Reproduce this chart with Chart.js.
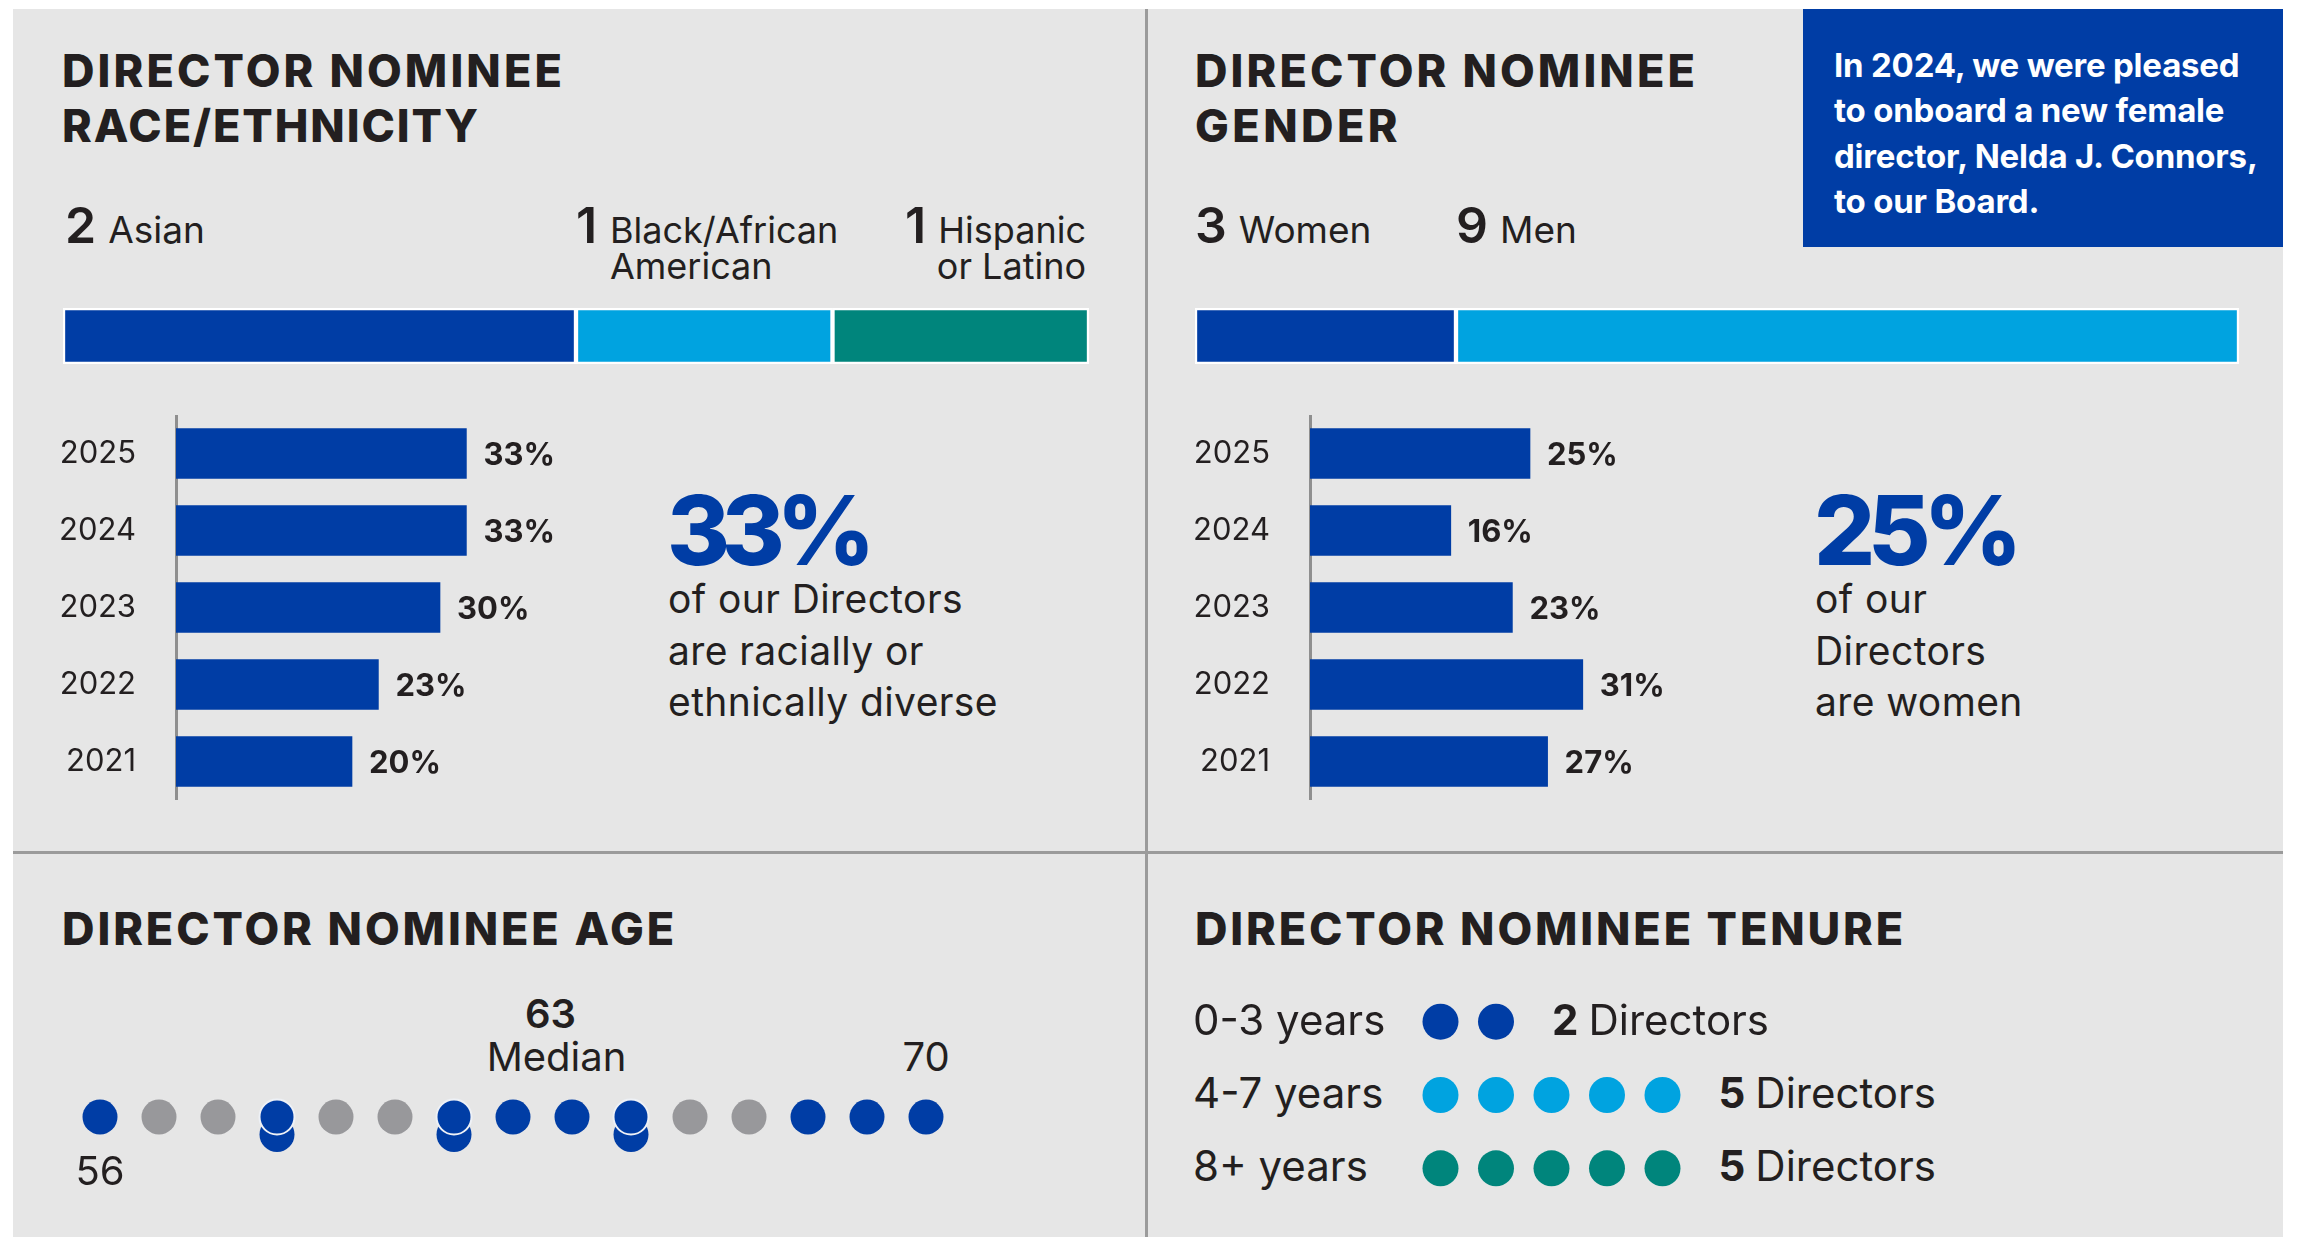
<!DOCTYPE html>
<html>
<head>
<meta charset="utf-8">
<title>Director nominees</title>
<script src="https://cdn.jsdelivr.net/npm/chart.js@4.4.1/dist/chart.umd.min.js"></script>
<style>
  html, body { margin: 0; padding: 0; background: #fff; }
  body { width: 2301px; height: 1244px; position: relative; overflow: hidden; font-family: Inter, sans-serif; color: #231f20; }
  .panel { position: absolute; left: 13px; top: 9px; width: 2270px; height: 1228px; background: #e6e6e6; }
  .vline { position: absolute; left: 1145px; top: 9px; width: 3px; height: 1228px; background: #9b9b9b; }
  .hline { position: absolute; left: 13px; top: 851px; width: 2270px; height: 3px; background: #9b9b9b; }
  .note { position: absolute; left: 1803px; top: 9px; width: 480px; height: 238px; background: #003da5; }
  .box { position: absolute; }
  .t { position: absolute; white-space: nowrap; line-height: 1; }
</style>
</head>
<body>
<div class="panel"></div>
<div class="vline"></div>
<div class="hline"></div>
<div class="note"></div>

<div class="box" style="left:63px;top:308px;width:1026px;height:56px"><canvas id="raceMix"></canvas></div>
<div class="box" style="left:1195px;top:308px;width:1044px;height:56px"><canvas id="genderMix"></canvas></div>
<div class="box" style="left:46px;top:415px;width:570px;height:385px"><canvas id="raceYears"></canvas></div>
<div class="box" style="left:1180px;top:415px;width:570px;height:385px"><canvas id="genderYears"></canvas></div>
<div class="box" style="left:41px;top:1082px;width:944px;height:70px"><canvas id="ageDots"></canvas></div>
<div class="box" style="left:1385px;top:985px;width:333px;height:220px"><canvas id="tenureDots"></canvas></div>

<script>
// data
const raceLabels = ['Asian', 'Black/African\nAmerican', 'Hispanic\nor Latino'];
const raceCounts = [2, 1, 1];
const genderLabels = ['Women', 'Men'];
const genderCounts = [3, 9];
const years = ['2025', '2024', '2023', '2022', '2021'];
const racePct = [33, 33, 30, 23, 20];
const womenPct = [25, 16, 23, 31, 27];
const directorAges = [56, 59, 59, 62, 62, 63, 64, 65, 65, 68, 69, 70];
const tenureLabels = ['0-3 years', '4-7 years', '8+ years'];
const tenureCounts = [2, 5, 5];

const navy = '#003da5';
const sky = '#00a3e0';
const teal = '#00857c';
const dotGray = '#98989b';
const ink = '#231f20';

Chart.defaults.font.family = 'Inter';
Chart.defaults.color = ink;

// text helper: x / baseline in page px
function label(parts, x, base, align, fitWidth) {
  const el = document.createElement('div');
  el.className = 't';
  parts.forEach(p => {
    const s = document.createElement('span');
    s.textContent = p.text;
    s.style.font = (p.weight || 400) + ' ' + p.size + 'px Inter';
    s.style.color = p.color || ink;
    if (p.ls) s.style.letterSpacing = p.ls + 'px';
    if (p.gap) s.style.marginLeft = p.gap + 'px';
    el.appendChild(s);
  });
  const mark = document.createElement('span');
  mark.style.cssText = 'display:inline-block;width:0;height:0;vertical-align:baseline';
  el.appendChild(mark);
  document.body.appendChild(el);
  if (fitWidth) {
    const w0 = el.getBoundingClientRect().width;
    const n = parts[0].text.length;
    el.firstChild.style.letterSpacing = ((fitWidth - w0) / n) + 'px';
  }
  const w = el.getBoundingClientRect().width;
  let left = x;
  if (align === 'center') left = x - w / 2;
  if (align === 'right') left = x - w;
  el.style.left = left + 'px';
  el.style.top = (base - mark.offsetTop) + 'px';
  return el;
}

// one stacked bar of counts
function mixBar(id, counts, colors) {
  return new Chart(document.getElementById(id), {
    type: 'bar',
    data: {
      labels: [''],
      datasets: counts.map((c, i) => ({
        data: [c],
        backgroundColor: colors[i],
        borderColor: '#ffffff',
        borderWidth: 2.5,
        borderSkipped: false,
        barPercentage: 1,
        categoryPercentage: 1,
      })),
    },
    options: {
      indexAxis: 'y',
      responsive: true,
      maintainAspectRatio: false,
      animation: false,
      layout: { padding: 0, autoPadding: false },
      plugins: { legend: { display: false }, tooltip: { enabled: false } },
      scales: {
        x: { stacked: true, display: false, min: 0, max: counts.reduce((a, b) => a + b, 0) },
        y: { stacked: true, display: false },
      },
    },
  });
}

const valueLabels = {
  id: 'valueLabels',
  afterDatasetsDraw(chart) {
    const ctx = chart.ctx;
    ctx.save();
    ctx.font = '700 31px Inter';
    ctx.fillStyle = ink;
    ctx.textBaseline = 'middle';
    chart.getDatasetMeta(0).data.forEach((bar, i) => {
      ctx.fillText(chart.data.datasets[0].data[i] + '%', bar.x + 17, bar.y + 2);
    });
    ctx.restore();
  },
};

function yearBars(id, values) {
  return new Chart(document.getElementById(id), {
    type: 'bar',
    data: {
      labels: years,
      datasets: [{ data: values, backgroundColor: navy, barThickness: 50 }],
    },
    options: {
      indexAxis: 'y',
      responsive: true,
      maintainAspectRatio: false,
      animation: false,
      layout: { padding: 0, autoPadding: false },
      plugins: { legend: { display: false }, tooltip: { enabled: false } },
      scales: {
        x: { display: false, min: 0, max: 50 },
        y: {
          grid: { display: false, drawTicks: false },
          border: { display: true, color: '#8f8f8f', width: 3 },
          ticks: { color: ink, padding: 40, font: { family: 'Inter', size: 31 } },
          afterFit(s) { s.width = 130; s.paddingTop = 0; s.paddingBottom = 0; },
        },
      },
    },
    plugins: [valueLabels],
  });
}

mixBar('raceMix', raceCounts, [navy, sky, teal]);
mixBar('genderMix', genderCounts, [navy, sky]);
yearBars('raceYears', racePct);
yearBars('genderYears', womenPct);

// ages: one dot per year of age, stacked when two directors share it
const minAge = Math.min(...directorAges);
const maxAge = Math.max(...directorAges);
const ageSpan = [];
for (let a = minAge; a <= maxAge; a++) ageSpan.push(a);
const ageCount = a => directorAges.filter(v => v === a).length;
const sorted = [...directorAges].sort((a, b) => a - b);
const mid = sorted.length / 2;
const medianAge = sorted.length % 2 ? sorted[Math.floor(mid)] : (sorted[mid - 1] + sorted[mid]) / 2;

const topRow = ageSpan.filter(a => ageCount(a) > 0);
const secondRow = ageSpan.filter(a => ageCount(a) > 1);
const noAge = ageSpan.filter(a => ageCount(a) === 0);

const ageChart = new Chart(document.getElementById('ageDots'), {
  type: 'scatter',
  data: {
    datasets: [
      {
        data: topRow.map(a => ({ x: a, y: 2 })),
        pointBackgroundColor: navy,
        pointBorderColor: '#eef1f6',
        pointBorderWidth: topRow.map(a => (ageCount(a) > 1 ? 2 : 0)),
        pointRadius: 17.5,
        clip: false,
      },
      {
        data: secondRow.map(a => ({ x: a, y: 1 })),
        pointBackgroundColor: navy,
        pointBorderWidth: 0,
        pointRadius: 17.5,
        clip: false,
      },
      {
        data: noAge.map(a => ({ x: a, y: 2 })),
        pointBackgroundColor: dotGray,
        pointBorderWidth: 0,
        pointRadius: 17.5,
        clip: false,
      },
    ],
  },
  options: {
    responsive: true,
    maintainAspectRatio: false,
    animation: false,
    layout: { padding: 0, autoPadding: false },
    plugins: { legend: { display: false }, tooltip: { enabled: false } },
    scales: {
      x: { type: 'linear', display: false, min: minAge - 1, max: maxAge + 1 },
      y: { display: false, min: 0, max: 4 },
    },
  },
});

// tenure rows of dots
const tenureColors = [navy, sky, teal];
const tenureChart = new Chart(document.getElementById('tenureDots'), {
  type: 'scatter',
  data: {
    datasets: tenureCounts.map((n, r) => ({
      data: Array.from({ length: n }, (_, i) => ({ x: i + 1, y: tenureCounts.length - r })),
      pointBackgroundColor: tenureColors[r],
      pointBorderWidth: 0,
      pointRadius: 18,
      clip: false,
    })),
  },
  options: {
    responsive: true,
    maintainAspectRatio: false,
    animation: false,
    layout: { padding: 0, autoPadding: false },
    plugins: { legend: { display: false }, tooltip: { enabled: false } },
    scales: {
      x: { type: 'linear', display: false, min: 0, max: 6 },
      y: { display: false, min: 0.5, max: 3.5 },
    },
  },
});

// titles
const T = (s, x, b, w) => label([{ text: s, size: 45, weight: 800 }], x, b, 'left', w);
T('DIRECTOR NOMINEE', 62, 87, 503);
T('RACE/ETHNICITY', 62, 142, 418);
T('DIRECTOR NOMINEE', 1195, 87, 503);
T('GENDER', 1195, 142, 206);
T('DIRECTOR NOMINEE AGE', 62, 945, 615);
T('DIRECTOR NOMINEE TENURE', 1195, 945, 711);

// note box
['In 2024, we were pleased', 'to onboard a new female', 'director, Nelda J. Connors,', 'to our Board.']
  .forEach((s, i) => label([{ text: s, size: 33, weight: 700, color: '#ffffff', ls: -0.2 }], 1834, 77 + i * 45.3, 'left'));

// counts above the mix bars
const raceSplit = raceLabels.map(s => s.split('\n'));
label([{ text: String(raceCounts[0]), size: 50, weight: 600 }, { text: raceSplit[0][0], size: 37, gap: 12 }], 65, 243);
label([{ text: String(raceCounts[1]), size: 50, weight: 600 }], 576, 243);
label([{ text: raceSplit[1][0], size: 36 }], 610, 243);
label([{ text: raceSplit[1][1], size: 36 }], 610, 279);
label([{ text: String(raceCounts[2]), size: 50, weight: 600 }], 905, 243);
label([{ text: raceSplit[2][0], size: 36 }], 1086, 243, 'right');
label([{ text: raceSplit[2][1], size: 36 }], 1086, 279, 'right');

label([{ text: String(genderCounts[0]), size: 50, weight: 600 }, { text: genderLabels[0], size: 37, gap: 12 }], 1195, 243);
label([{ text: String(genderCounts[1]), size: 50, weight: 600 }, { text: genderLabels[1], size: 37, gap: 12 }], 1456, 243);

// headline figures
label([{ text: racePct[0] + '%', size: 96, weight: 800, color: navy }], 667, 565, 'left', 200);
['of our Directors', 'are racially or', 'ethnically diverse']
  .forEach((s, i) => label([{ text: s, size: 39, ls: 0.4 }], 668, 613 + i * 51.5, 'left'));
label([{ text: womenPct[0] + '%', size: 96, weight: 800, color: navy }], 1814, 565, 'left', 201);
['of our', 'Directors', 'are women']
  .forEach((s, i) => label([{ text: s, size: 39, ls: 0.4 }], 1815, 613 + i * 51.5, 'left'));

// age labels placed through the chart's x scale
const ageX = v => 41 + ageChart.scales.x.getPixelForValue(v);
label([{ text: String(Math.floor(medianAge)), size: 40, weight: 600 }], ageX(medianAge) + 8, 1028, 'center');
label([{ text: 'Median', size: 40 }], ageX(medianAge) + 14, 1071, 'center');
label([{ text: String(maxAge), size: 40 }], ageX(maxAge), 1071, 'center');
label([{ text: String(minAge), size: 40 }], ageX(minAge), 1185, 'center');

// tenure labels
tenureLabels.forEach((s, r) => {
  const base = 985 + tenureChart.scales.y.getPixelForValue(tenureCounts.length - r) + 13;
  label([{ text: s, size: 42 }], 1193, base, 'left');
  const endX = 1385 + tenureChart.scales.x.getPixelForValue(tenureCounts[r]);
  label([{ text: String(tenureCounts[r]), size: 42, weight: 700 }, { text: 'Directors', size: 42, gap: 10 }], endX + 56, base, 'left');
});
</script>
</body>
</html>
